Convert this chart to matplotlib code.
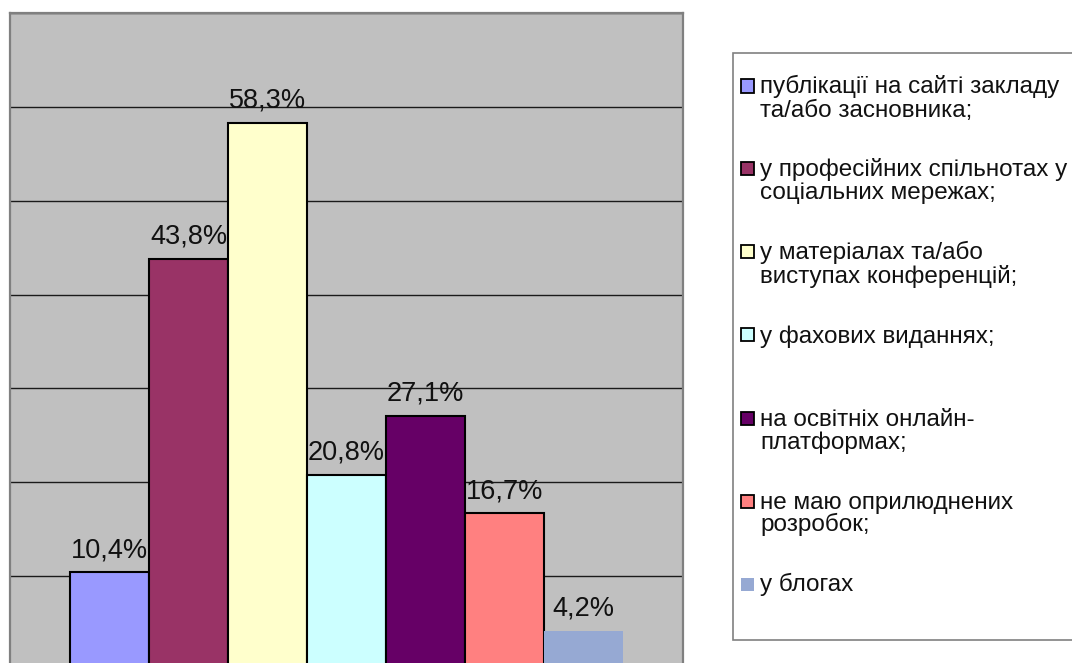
import matplotlib.pyplot as plt
from matplotlib.patches import Rectangle

plt.rcParams['font.family'] = ['Liberation Sans', 'DejaVu Sans']

# data
values = [10.4, 43.8, 58.3, 20.8, 27.1, 16.7, 4.2]
legend_lines = [
    ["публікації на сайті закладу", "та/або засновника;"],
    ["у професійних спільнотах у", "соціальних мережах;"],
    ["у матеріалах та/або", "виступах конференцій;"],
    ["у фахових виданнях;"],
    ["на освітніх онлайн-", "платформах;"],
    ["не маю оприлюднених", "розробок;"],
    ["у блогах"],
]
colors = ['#9999FF', '#993366', '#FFFFCC', '#CCFFFF', '#660066', '#FF8080', '#96A9D3']
edges = ['black'] * 6 + ['none']

W, H = 1072, 663
fig = plt.figure(figsize=(W / 100, H / 100), dpi=100)

# plot area (bottom sits a bit below the picture edge)
ax = fig.add_axes([10 / W, -7 / H, 673 / W, 657 / H])
ax.set_facecolor('#C0C0C0')
x = list(range(len(values)))
ax.bar(x, values, width=1.0, color=colors, edgecolor=edges, linewidth=1.5, zorder=3)
ax.set_xlim(-1.26, 7.26)
ax.set_ylim(0, 70)
ax.set_yticks(range(0, 71, 10))
ax.yaxis.grid(True, color='#1a1a1a', linewidth=1.0)
ax.set_axisbelow(True)
ax.tick_params(left=False, bottom=False, labelleft=False, labelbottom=False)
for s in ax.spines.values():
    s.set_color('#808080')
    s.set_linewidth(1.6)

for xi, v in zip(x, values):
    ax.annotate(f"{v:.1f}%".replace('.', ','), (xi, v), xytext=(0, 15),
                textcoords='offset pixels', ha='center', va='baseline',
                fontsize=19.5, color='#111111', zorder=4)

# legend box drawn by hand
fig.patches.append(Rectangle((733 / W, 1 - 640 / H), 345 / W, 587 / H,
                             transform=fig.transFigure, facecolor='white',
                             edgecolor='#808080', linewidth=1.2))
for i, (lines, c, ec) in enumerate(zip(legend_lines, colors, edges)):
    base = 93.5 + 83 * i
    fig.patches.append(Rectangle((741 / W, 1 - (base - 1) / H), 13 / W, 13 / H,
                                 transform=fig.transFigure, facecolor=c,
                                 edgecolor=ec, linewidth=1.3))
    for j, ln in enumerate(lines):
        fig.text(760 / W, 1 - (base + 23 * j) / H, ln, fontsize=17.5,
                 ha='left', va='baseline', color='#111111')

fig.savefig('out.png', dpi=100)
